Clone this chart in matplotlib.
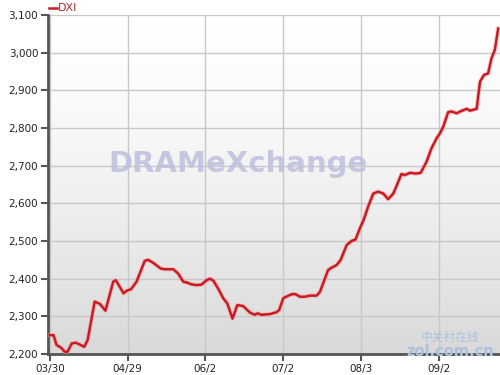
import numpy as np
import matplotlib
matplotlib.use('Agg')
import matplotlib.pyplot as plt
from matplotlib.ticker import FuncFormatter

# trading-day offset from 03/30 and DXI value
days = [0, 1, 1.8, 3.0, 4.0, 4.8, 5.9, 7.0, 8.3, 9.3, 10.2, 12.1, 13.5, 15.0,
        17.1, 17.8, 19.9, 20.7, 21.9, 23.4, 25.6, 26.5, 27.9, 28.3, 29.9, 31.0,
        33.3, 34.6, 36.0, 36.9, 38.2, 39.6, 40.9, 42.3, 43.2, 44.1, 45.4, 46.8,
        47.9, 49.3, 50.6, 52.2, 54.0, 55.3, 56.1, 57.1, 59.4, 61.2, 61.9, 63.0,
        64.2, 65.4, 66.3, 67.5, 68.8, 70.2, 72.0, 72.9, 75.1, 76.2, 77.4, 78.5,
        80.1, 81.4, 82.5, 83.7, 84.7, 85.9, 87.3, 88.6, 90.0, 91.3, 92.7, 93.7,
        94.9, 95.8, 97.2, 98.8, 100.1, 101.7, 103.0, 104.4, 105.3, 106.2, 107.5,
        108.4, 109.8, 110.8, 112.5, 113.4, 115.2, 116.1, 117.2, 118.3, 119.2,
        120.1, 121.0]
dxi = [2250, 2250, 2224, 2217, 2206, 2206, 2228, 2230, 2224, 2219, 2237, 2339,
       2333, 2315, 2392, 2396, 2361, 2368, 2372, 2392, 2447, 2450, 2442, 2439,
       2427, 2425, 2425, 2414, 2392, 2390, 2385, 2383, 2384, 2396, 2400, 2395,
       2374, 2348, 2334, 2294, 2330, 2327, 2310, 2304, 2308, 2304, 2306, 2311,
       2317, 2348, 2354, 2359, 2359, 2352, 2352, 2355, 2355, 2365, 2423, 2430,
       2436, 2450, 2489, 2500, 2504, 2534, 2556, 2591, 2626, 2631, 2626, 2611,
       2626, 2649, 2678, 2675, 2681, 2679, 2681, 2711, 2746, 2773, 2786, 2804,
       2842, 2844, 2839, 2844, 2851, 2846, 2851, 2923, 2941, 2945, 2985, 3007,
       3064]

tick_pos = [0, 21, 42, 63, 84, 105]
tick_labels = ['03/30', '04/29', '06/2', '07/2', '08/3', '09/2']
y_ticks = [2200, 2300, 2400, 2500, 2600, 2700, 2800, 2900, 3000, 3100]

fig = plt.figure(figsize=(5, 3.75), dpi=100)
ax = fig.add_axes([0.096, 0.056, 0.904, 0.904])
xmin, xmax = -0.5, 121.5
ax.set_xlim(xmin, xmax)
ax.set_ylim(2200, 3100)

# white to grey background gradient
cmap = matplotlib.colors.LinearSegmentedColormap.from_list('bg', ['#ffffff', '#d9d9d9'])
grad = np.linspace(0, 1, 100).reshape(-1, 1) ** 1.5
ax.imshow(grad, extent=[xmin, xmax, 2200, 3100], aspect='auto', cmap=cmap,
          origin='upper', zorder=0, vmin=0, vmax=1)

ax.set_xticks(tick_pos)
ax.set_xticklabels(tick_labels)
ax.set_yticks(y_ticks)
ax.yaxis.set_major_formatter(FuncFormatter(lambda v, p: '{:,.0f}'.format(v)))
ax.grid(True, color='#c8c8c8', linewidth=1)
ax.set_axisbelow(True)

for s in ['top', 'right']:
    ax.spines[s].set_visible(False)
ax.spines['left'].set_color('#555555')
ax.spines['left'].set_linewidth(2)
ax.spines['bottom'].set_color('#555555')
ax.spines['bottom'].set_linewidth(2)
ax.tick_params(axis='both', colors='#555555', labelcolor='#222222',
               labelsize=7.5, length=5, width=1.5, pad=2)

# watermarks
ax.text(0.42, 0.56, 'DRAMeXchange', transform=ax.transAxes, fontsize=21,
        fontweight='bold', color='#bcc0dc', alpha=0.85, ha='center', va='center',
        zorder=1)
fig.text(0.9, 0.1, '中关村在线', fontsize=8.5, color='#aac0dc',
         ha='center', va='center', zorder=1,
         family=['Noto Sans CJK SC', 'DejaVu Sans'])
fig.text(0.9, 0.062, 'zol.com.cn', fontsize=10.5, fontweight='bold',
         color='#aac0dc', ha='center', va='center', zorder=1)

ax.plot(days, dxi, color='#f4a0a0', linewidth=3.2, alpha=0.5, zorder=3,
        solid_joinstyle='round')
ax.plot(days, dxi, color='#cc1a22', linewidth=1.8, zorder=4,
        solid_joinstyle='round')

# legend
fig.lines.append(plt.Line2D([0.098, 0.114], [0.978, 0.978], color='#cc1a22',
                            linewidth=1.8, transform=fig.transFigure))
fig.text(0.116, 0.978, 'DXI', color='#a8283a', fontsize=8, va='center')

fig.savefig('out.png', dpi=100)
